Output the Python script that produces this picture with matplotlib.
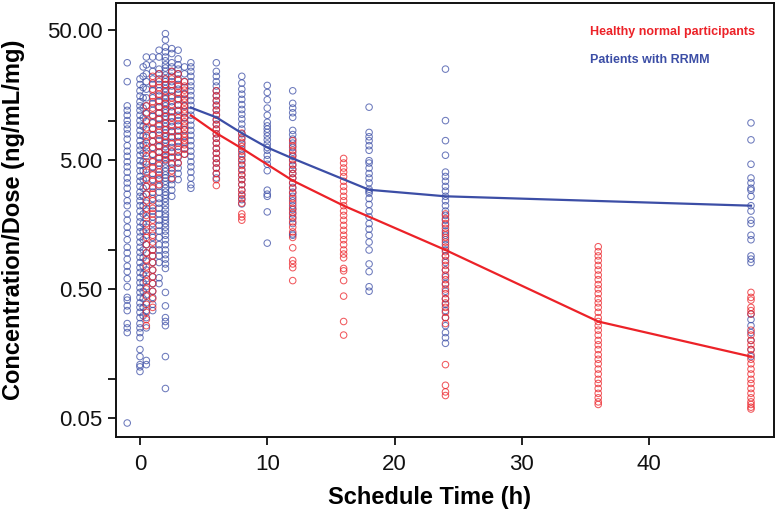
import matplotlib
matplotlib.use("Agg")
import matplotlib.pyplot as plt
from matplotlib.ticker import NullLocator

plt.rcParams['font.family'] = ['Liberation Sans', 'DejaVu Sans']

# ---------------- data ----------------
blue_times = [-1, 0, 0.25, 0.5, 1, 1.5, 2, 2.5, 3, 3.5, 4, 6, 8, 10, 12, 18, 24, 48]
b_m1 = [28, 20, 13, 12, 11, 10, 9.3, 8.6, 7.9, 7.2, 6.4, 5.8, 5.3, 4.8, 4.4, 4.0, 3.6, 3.3, 3.0, 2.7, 2.4, 2.2,
        1.9, 1.7, 1.5, 1.35, 1.2, 1.05, 0.95, 0.85, 0.75, 0.68, 0.6, 0.52, 0.43, 0.41, 0.37, 0.34, 0.27, 0.25,
        0.23, 0.046]
b_0 = [21, 19, 17, 15.5, 14, 13, 12, 11, 10, 9.2, 8.4, 7.7, 7.0, 6.4, 5.9, 5.4, 4.9, 4.5, 4.1, 3.7, 3.4, 3.1,
       2.8, 2.6, 2.4, 2.2, 2.0, 1.8, 1.65, 1.5, 1.38, 1.26, 1.15, 1.05, 0.96, 0.88, 0.8, 0.73, 0.67, 0.61, 0.56,
       0.51, 0.47, 0.43, 0.39, 0.36, 0.33, 0.3, 0.27, 0.25, 0.23, 0.21, 0.17, 0.15, 0.13, 0.125, 0.115]
b_025 = [26, 22, 18, 15, 12.5, 10.5, 9, 7.6, 6.5, 5.6, 4.8, 4.1, 3.5, 3.0, 2.6, 2.2, 1.9, 1.6, 1.4, 1.2, 1.0,
         0.87, 0.75, 0.65, 0.56, 0.48, 0.42, 0.36, 0.31]
b_05 = [31, 27, 23, 20, 17.5, 15, 13, 11.3, 9.8, 8.5, 7.4, 6.4, 5.6, 4.8, 4.2, 3.6, 3.1, 2.7, 2.3, 2.0, 1.75,
        1.5, 1.3, 1.1, 0.95, 0.82, 0.7, 0.6, 0.52, 0.45, 0.39, 0.34, 0.3, 0.25, 0.14, 0.13]
b_1 = [31, 27, 24, 21, 19, 17, 15, 13.5, 12, 10.8, 9.6, 8.6, 7.7, 6.9, 6.2, 5.5, 4.9, 4.4, 3.9, 3.5, 3.1, 2.8,
       2.5, 2.2, 2.0, 1.8, 1.6, 1.4, 1.25, 1.1, 1.0, 0.9, 0.8, 0.7, 0.62, 0.55, 0.48, 0.43, 0.38, 0.34]
b_15 = [35, 31, 25, 23, 21, 19, 17, 15.5, 14, 12.7, 11.5, 10.4, 9.4, 8.5, 7.7, 7.0, 6.3, 5.7, 5.2, 4.7, 4.2,
        3.8, 3.5, 3.1, 2.8, 2.5, 2.3, 2.1, 1.9, 1.7, 1.55, 1.4, 1.25, 1.1, 1.0, 0.9, 0.8, 0.61, 0.55]
b_2 = [47, 42, 37, 34, 31, 29, 27, 25.5, 24, 22.5, 21, 20, 18.8, 17.7, 16.6, 15.6, 14.7, 13.8, 13, 12.2, 11.5,
       10.8, 10.2, 9.6, 9, 8.5, 8, 7.5, 7.1, 6.7, 6.3, 5.9, 5.5, 5.2, 4.9, 4.6, 4.3, 4.05, 3.8, 3.6, 3.4, 3.2,
       3.0, 2.8, 2.65, 2.5, 2.35, 2.2, 2.05, 1.9, 1.8, 1.7, 1.6, 1.5, 1.4, 1.3, 1.2, 1.1, 1.0, 0.92, 0.85, 0.78,
       0.72, 0.47, 0.37, 0.3, 0.28, 0.26, 0.15, 0.085]
b_25 = [36, 33, 28, 26, 24, 22, 20, 18.5, 17, 15.5, 14, 12.8, 11.7, 10.7, 9.8, 9, 8.2, 7.5, 6.8, 6.2, 5.7, 5.2,
        4.7, 4.3, 3.9, 3.5, 3.2, 2.9, 2.6]
b_3 = [35, 30, 27, 25, 23, 21, 19, 17.5, 16, 14.5, 13.2, 12, 11, 10, 9.1, 8.3, 7.6, 6.9, 6.3, 5.7, 5.2, 4.7,
       4.3, 3.9, 3.5]
b_35 = [26, 23, 20, 18, 16, 14.5, 13, 11.7, 10.5, 9.5, 8.5, 7.6, 6.8, 6.1, 5.5]
b_4 = [28, 26, 24, 22, 20, 18.5, 17, 15.6, 14.3, 13.1, 12, 11, 10.1, 9.2, 8.4, 7.7, 7.0, 6.4, 5.8, 5.3, 4.8,
       4.4, 4.0, 3.6, 3.2, 3.0]
b_6 = [28, 24, 22, 20, 18.5, 17, 15.6, 14.3, 13.2, 12.1, 11.1, 10.2, 9.4, 8.6, 7.9, 7.3, 6.7, 6.1, 5.6, 5.1,
       4.7, 4.3, 3.9, 3.6]
b_8 = [22, 19.5, 17.5, 16, 14.6, 13.3, 12.2, 11.2, 10.3, 9.4, 8.6, 7.9, 7.2, 6.6, 6.0, 5.5, 5.0, 4.6, 4.2, 3.8,
       3.5, 3.2, 2.9, 2.65, 2.45, 2.27]
b_10 = [18.7, 16.5, 14.5, 12.5, 11, 9.7, 9.1, 8.6, 8.1, 7.6, 7.1, 6.6, 6.2, 5.9, 5.4, 5.0, 4.6, 4.1, 2.9, 2.7,
        2.6, 1.97, 1.13]
b_12 = [17, 13.6, 12.5, 11.5, 10.6, 8.4, 7.8, 7.2, 6.7, 6.2, 5.7, 5.3, 4.9, 4.5, 4.2, 3.9, 3.6, 3.3, 3.05, 2.8,
        2.6, 2.4, 2.2, 2.05, 1.9, 1.75, 1.6, 1.33, 1.3]
b_18 = [12.7, 8.1, 7.5, 7.0, 6.4, 5.9, 4.9, 4.7, 4.3, 3.9, 3.6, 3.3, 2.95, 2.85, 2.75, 2.5, 2.25, 2.0, 1.8, 1.6,
        1.45, 1.3, 1.15, 1.0, 0.78, 0.68, 0.52, 0.48]
b_24 = [25, 10, 7.0, 5.4, 4.0, 3.7, 3.4, 3.1, 2.85, 2.6, 2.4, 2.2, 2.0, 1.85, 1.7, 1.55, 1.4, 1.3, 1.2, 1.1, 1.0,
        0.9, 0.8, 0.7, 0.62, 0.55, 0.48, 0.42, 0.38, 0.34, 0.3, 0.26, 0.23, 0.21, 0.19]
b_48 = [9.6, 7.1, 4.6, 3.6, 3.3, 3.0, 2.9, 2.6, 2.2, 2.0, 1.7, 1.6, 1.3, 1.2, 0.9, 0.85, 0.8, 0.32, 0.29, 0.26,
        0.23, 0.2, 0.17, 0.15]
blue_vals = [b_m1, b_0, b_025, b_05, b_1, b_15, b_2, b_25, b_3, b_35, b_4, b_6, b_8, b_10, b_12, b_18, b_24, b_48]

red_times = [0.5, 1, 1.5, 2, 2.5, 3, 3.5, 6, 8, 12, 16, 24, 36, 48]
r_05 = [13, 11.5, 10, 8.8, 7.7, 6.8, 6.0, 5.3, 4.6, 4.0, 3.5, 3.1, 2.7, 2.4, 2.1, 1.85, 1.6, 1.4, 1.25, 1.1,
        0.95, 0.84, 0.74, 0.65, 0.57, 0.5, 0.44, 0.38, 0.33, 0.29, 0.26]
r_1 = [22, 19.5, 17.5, 15.5, 14, 12.5, 11, 9.8, 8.7, 7.8, 6.9, 6.1, 5.4, 4.8, 4.3, 3.8, 3.4, 3.0, 2.7, 2.4, 2.1,
       1.9, 1.7, 1.5, 1.3, 1.15, 1.0, 0.9, 0.8, 0.7, 0.62, 0.55, 0.48, 0.42, 0.36]
r_15 = [23, 20, 18, 16, 14.3, 12.8, 11.4, 10.2, 9.1, 8.1, 7.2, 6.4, 5.7, 5.1, 4.5, 4.0, 3.6, 3.2]
r_2 = [21, 19, 17, 15, 13.5, 12, 10.7, 9.5, 8.5, 7.6, 6.8, 6.0, 5.4, 5.0]
r_25 = [24, 21, 19, 17, 15, 13.3, 11.8, 10.5, 9.3, 8.3, 7.4, 6.6, 5.8, 5.2, 4.6, 4.1, 3.6]
r_3 = [23, 20.5, 18.5, 16.5, 14.8, 13.2, 11.8, 10.5, 9.4, 8.4, 7.5, 6.7, 6.0, 5.3, 4.7]
r_35 = [20, 18.5, 17.2, 16, 14.9, 13.9, 13, 12.1, 11.3, 10.5, 9.8, 9.1, 8.5, 7.9, 7.4, 7.0, 6.5, 6.0, 5.5]
r_6 = [17, 15.5, 14.2, 13, 12, 11, 10.1, 9.3, 8.6, 7.9, 7.3, 6.7, 6.1, 5.6, 5.1, 4.7, 4.3, 3.9, 3.5, 3.15]
r_8 = [8, 7.4, 6.8, 6.3, 5.8, 5.3, 4.9, 4.5, 4.1, 3.8, 3.5, 3.2, 2.9, 2.7, 2.5, 2.3, 1.9, 1.8, 1.7]
r_12 = [7.0, 6.4, 5.9, 5.4, 5.0, 4.6, 4.2, 3.9, 3.6, 3.3, 3.0, 2.75, 2.5, 2.3, 2.1, 1.95, 1.8, 1.65, 1.5, 1.38,
        1.25, 1.04, 0.83, 0.78, 0.73, 0.58]
r_16 = [5.1, 4.7, 4.3, 4.0, 3.7, 3.4, 3.1, 2.85, 2.6, 2.4, 2.2, 2.0, 1.85, 1.7, 1.55, 1.42, 1.3, 1.2, 1.1, 1.0,
        0.93, 0.87, 0.72, 0.69, 0.58, 0.44, 0.28, 0.22]
r_24 = [1.9, 1.75, 1.6, 1.47, 1.35, 1.25, 1.15, 1.05, 0.97, 0.9, 0.83, 0.76, 0.7, 0.64, 0.59, 0.54, 0.5, 0.46,
        0.42, 0.39, 0.36, 0.33, 0.3, 0.27, 0.13, 0.09, 0.08, 0.075]
r_36 = [1.06, 0.97, 0.9, 0.83, 0.76, 0.7, 0.64, 0.59, 0.54, 0.5, 0.46, 0.42, 0.39, 0.36, 0.33, 0.3, 0.28, 0.26,
        0.24, 0.22, 0.2, 0.185, 0.17, 0.155, 0.143, 0.132, 0.12, 0.11, 0.1, 0.093, 0.085, 0.078, 0.072, 0.067,
        0.064]
r_48 = [0.47, 0.43, 0.41, 0.36, 0.34, 0.32, 0.24, 0.22, 0.2, 0.185, 0.17, 0.155, 0.143, 0.132, 0.12, 0.11, 0.1,
        0.093, 0.085, 0.078, 0.072, 0.067, 0.064, 0.061, 0.059]
red_vals = [r_05, r_1, r_15, r_2, r_25, r_3, r_35, r_6, r_8, r_12, r_16, r_24, r_36, r_48]

# median profile lines
blue_line_t = [4, 6, 8, 10, 12, 18, 24, 48]
blue_line_v = [12.6, 10.6, 8.0, 6.2, 5.1, 2.92, 2.6, 2.2]
red_line_t = [4, 6, 8, 12, 16, 24, 36, 48]
red_line_v = [11.0, 8.0, 6.1, 3.44, 2.2, 1.0, 0.28, 0.15]

y_ticks = [0.05, 0.1, 0.5, 1, 5, 10, 50]
y_ticklabels = ['0.05', '', '0.50', '', '5.00', '', '50.00']
x_ticks = [0, 10, 20, 30, 40]

legend_labels = ['Healthy normal participants', 'Patients with RRMM']

BLUE = '#3c4ea6'
RED = '#ec2228'

# ---------------- plot ----------------
fig = plt.figure(figsize=(7.77, 5.12), dpi=100)
ax = fig.add_axes([0.149, 0.146, 0.847, 0.848])

for t, vals in zip(blue_times, blue_vals):
    ax.scatter([t] * len(vals), vals, s=22, facecolors='none', edgecolors=BLUE,
               linewidths=0.75, alpha=0.75, zorder=2)
for t, vals in zip(red_times, red_vals):
    ax.scatter([t] * len(vals), vals, s=22, facecolors='none', edgecolors=RED,
               linewidths=0.75, alpha=0.75, zorder=2)

ax.plot(blue_line_t, blue_line_v, color=BLUE, lw=1.6, zorder=3)
ax.plot(red_line_t, red_line_v, color=RED, lw=1.6, zorder=3)

ax.set_yscale('log')
ax.set_xlim(-1.9, 49.8)
ax.set_ylim(0.0357, 81)
ax.set_yticks(y_ticks)
ax.set_yticklabels(y_ticklabels)
ax.yaxis.set_minor_locator(NullLocator())
ax.set_xticks(x_ticks)

ax.tick_params(axis='both', direction='out', length=6, width=1.3, labelsize=16, colors='#111111')
ax.tick_params(axis='y', pad=3.5)
ax.tick_params(axis='x', pad=6)
for sp in ax.spines.values():
    sp.set_linewidth(1.4)
    sp.set_color('#111111')

ax.set_xlabel('Schedule Time (h)', fontsize=17, fontweight='bold')
ax.set_ylabel('Concentration/Dose (ng/mL/mg)', fontsize=17, fontweight='bold')
ax.xaxis.set_label_coords(0.476, -0.113)
ax.yaxis.set_label_coords(-0.138, 0.5)

ax.text(0.72, 0.933, legend_labels[0], transform=ax.transAxes, color=RED,
        fontsize=9, fontweight='bold', va='center', ha='left')
ax.text(0.72, 0.869, legend_labels[1], transform=ax.transAxes, color=BLUE,
        fontsize=9, fontweight='bold', va='center', ha='left')

fig.savefig('out.png', dpi=100)
